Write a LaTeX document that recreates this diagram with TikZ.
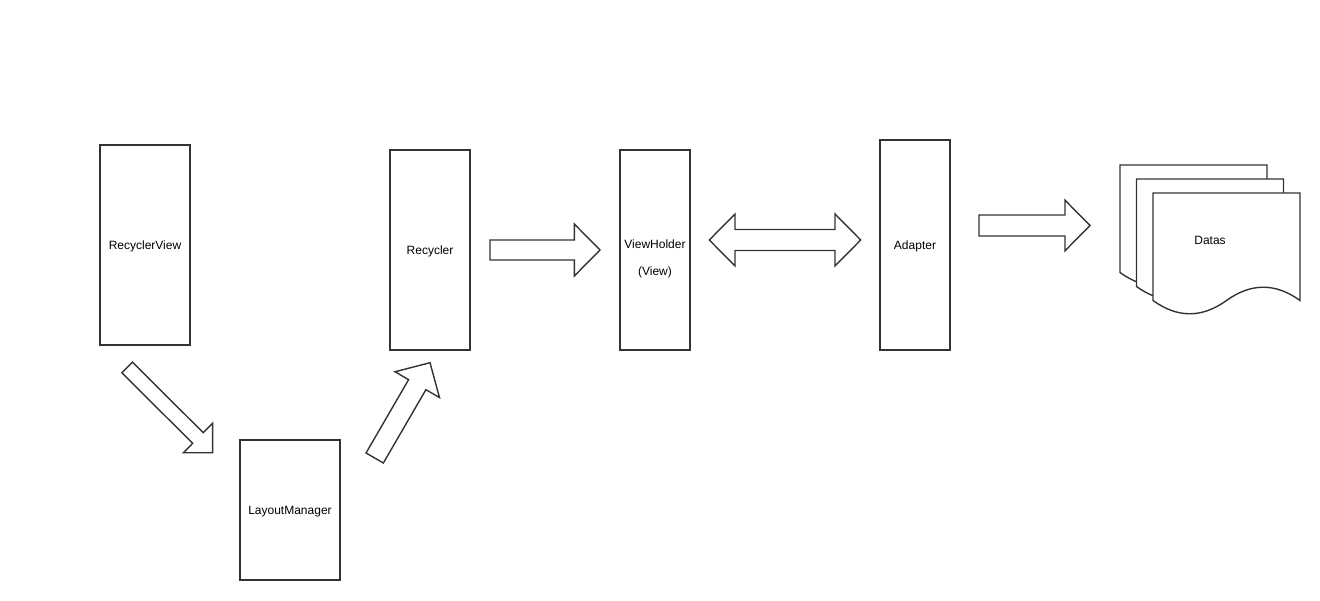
\documentclass[tikz,border=0pt]{standalone}
\usepackage{fontspec}
\setmainfont{Liberation Sans}
\usetikzlibrary{calc}

\definecolor{linecol}{HTML}{333333}

\tikzset{
  box/.style={draw=linecol, line width=1.5pt, inner sep=0pt, fill=white, text depth=0pt},
  arrowbody/.style={draw=linecol, line width=1.4pt, line join=miter, fill=white},
  datadoc/.pic={
    \draw[arrowbody] (0,0) -- (147,0) -- (147,-107.5)
      .. controls (122.5,-89.8) and (98,-89.8) .. (73.5,-107.5)
      .. controls (49,-125.2) and (24.5,-125.2) .. (0,-107.5) -- cycle;
  }
}

% block arrow: tail, tip, half shaft, head length, half head
\newcommand{\blockarrow}[5]{%
  \coordinate (#1-#2) at ($(#2)!#4!(#1)$);
  \draw[arrowbody] ($(#1)!#3!90:(#2)$) -- ($(#1-#2)!#3!90:(#2)$)
    -- ($(#1-#2)!#5!90:(#2)$) -- (#2) -- ($(#1-#2)!#5!-90:(#2)$)
    -- ($(#1-#2)!#3!-90:(#2)$) -- ($(#1)!#3!-90:(#2)$) -- cycle;}

% two-headed block arrow
\newcommand{\doubleblockarrow}[5]{%
  \coordinate (#1-h) at ($(#1)!#4!(#2)$);
  \coordinate (#2-h) at ($(#2)!#4!(#1)$);
  \draw[arrowbody] (#1) -- ($(#1-h)!#5!90:(#2)$) -- ($(#1-h)!#3!90:(#2)$)
    -- ($(#2-h)!#3!90:(#2)$) -- ($(#2-h)!#5!90:(#2)$) -- (#2)
    -- ($(#2-h)!#5!-90:(#2)$) -- ($(#2-h)!#3!-90:(#2)$)
    -- ($(#1-h)!#3!-90:(#2)$) -- ($(#1-h)!#5!-90:(#2)$) -- cycle;}

\begin{document}
\begin{tikzpicture}[x=1pt, y=1pt, font=\fontsize{12}{14}\selectfont]
    \useasboundingbox[fill=white] (0,0) rectangle (1320,600);

    % Boxes
    \node[box, minimum width=90, minimum height=200] (rv) at (145,355) {RecyclerView};
    \node[box, minimum width=100, minimum height=140] (lm) at (290,90) {LayoutManager};
    \node[box, minimum width=80, minimum height=200] (rc) at (430,350) {Recycler};
    \node[box, minimum width=70, minimum height=200] (vh) at (655,350) {};
    \node[align=center] (vhtext) at ([yshift=-8.5pt]vh.center) {ViewHolder\\[13pt](View)};
    \node[box, minimum width=70, minimum height=210] (ad) at (915,355) {Adapter};

    % Datas
    \pic (docback) at (1120,435) {datadoc};
    \pic (docmid) at (1136.5,421) {datadoc};
    \pic (docfront) at (1153,407) {datadoc};
    \node (datas) at (1210,360) {Datas};

    % Arrows
    \coordinate (rvout) at (127.2,232.5);
    \coordinate (lmin) at (212.7,147.3);
    \blockarrow{rvout}{lmin}{7.5pt}{20.8pt}{20.8pt}

    \coordinate (lmout) at (374.7,142);
    \coordinate (rcin) at (430,237.3);
    \blockarrow{lmout}{rcin}{10pt}{25.4pt}{25.7pt}

    \coordinate (rcout) at (490,350);
    \coordinate (vhin) at (600,350);
    \blockarrow{rcout}{vhin}{10pt}{25.7pt}{26pt}

    \coordinate (vhside) at (709.3,360);
    \coordinate (adside) at (860.7,360);
    \doubleblockarrow{vhside}{adside}{10.5pt}{25.7pt}{26pt}

    \coordinate (adout) at (979,374.5);
    \coordinate (datasin) at (1090,374.5);
    \blockarrow{adout}{datasin}{10.5pt}{25pt}{25.3pt}
\end{tikzpicture}
\end{document}
